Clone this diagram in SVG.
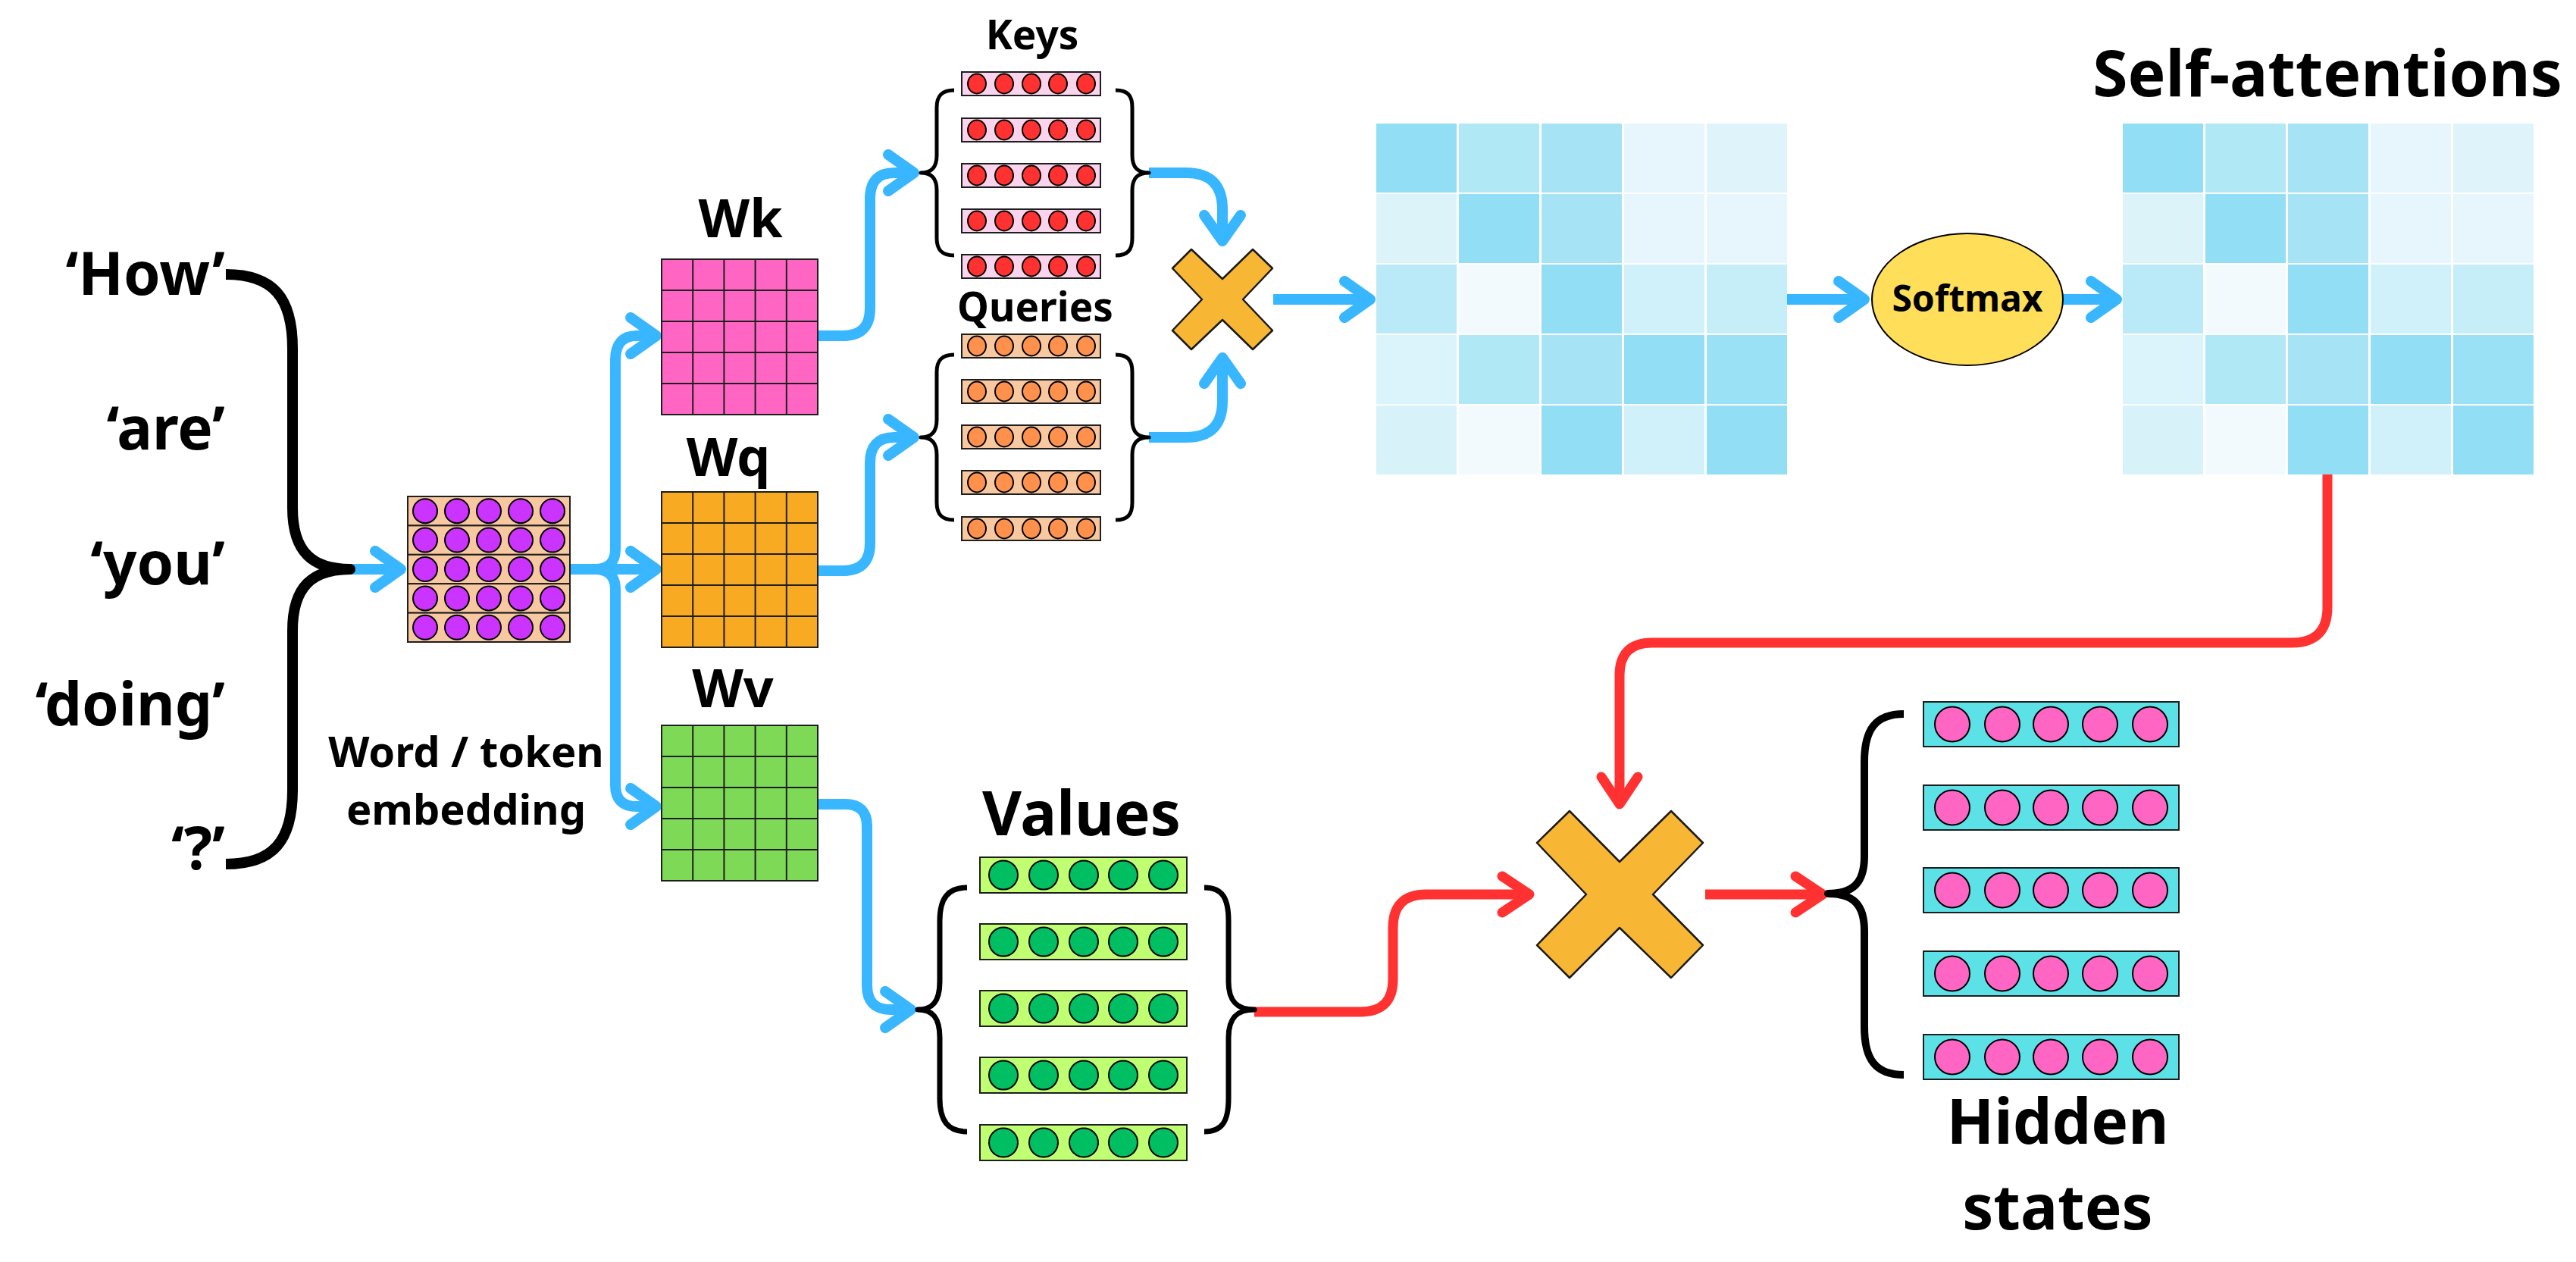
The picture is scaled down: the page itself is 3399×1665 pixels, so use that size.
<svg xmlns="http://www.w3.org/2000/svg" xmlns:xlink="http://www.w3.org/1999/xlink" width="3399" height="1665" viewBox="0 0 3399 1665">
<style>
.t{font-family:"Noto Sans","Open Sans","Liberation Sans",sans-serif;font-weight:700;fill:#000}
.br{fill:none;stroke:#000;stroke-linecap:butt;stroke-linejoin:round}
.cb{fill:none;stroke:#38B6FF;stroke-width:14;stroke-linecap:butt;stroke-linejoin:round}
.cr{fill:none;stroke:#FF3131;stroke-width:13;stroke-linecap:butt;stroke-linejoin:round}
.grid{stroke:#1e1e1e;stroke-width:2;fill:none}
.cell{stroke:#1e1e1e;stroke-width:2}
.dot{stroke:#000;stroke-width:2}
.xs{fill:#F7B633;stroke:#1a1a1a;stroke-width:2.5;stroke-linejoin:round}
</style>
<defs>
<marker id="ab" markerUnits="userSpaceOnUse" orient="auto" refX="0" refY="0" markerWidth="80" markerHeight="80" viewBox="-50 -40 80 80" overflow="visible">
<path d="M-34 -24 L0 0 L-34 24" fill="none" stroke="#38B6FF" stroke-width="14" stroke-linecap="round" stroke-linejoin="round"/>
</marker>
<marker id="ar" markerUnits="userSpaceOnUse" orient="auto" refX="0" refY="0" markerWidth="80" markerHeight="80" viewBox="-50 -40 80 80" overflow="visible">
<path d="M-36 -24 L0 0 L-36 24" fill="none" stroke="#FF3131" stroke-width="13" stroke-linecap="round" stroke-linejoin="round"/>
</marker>
<g id="embRow">
<rect width="214" height="38.4" fill="#F8C9A0" class="cell"/>
<circle cx="23" cy="19.2" r="16" fill="#CB33FF" class="dot"/>
<circle cx="65" cy="19.2" r="16" fill="#CB33FF" class="dot"/>
<circle cx="107" cy="19.2" r="16" fill="#CB33FF" class="dot"/>
<circle cx="149" cy="19.2" r="16" fill="#CB33FF" class="dot"/>
<circle cx="191" cy="19.2" r="16" fill="#CB33FF" class="dot"/>
</g>
<g id="wgrid">
<path class="grid" d="M41.2 0V205M82.4 0V205M123.6 0V205M164.8 0V205M0 41H206M0 82H206M0 123H206M0 164H206"/>
<rect width="206" height="205" class="grid"/>
</g>
<g id="keyVec">
<rect width="183" height="31" fill="#FAD4EC" class="cell"/>
<ellipse cx="20" cy="15.5" rx="12" ry="13" fill="#FF3131" class="dot"/>
<ellipse cx="56" cy="15.5" rx="12" ry="13" fill="#FF3131" class="dot"/>
<ellipse cx="92" cy="15.5" rx="12" ry="13" fill="#FF3131" class="dot"/>
<ellipse cx="127" cy="15.5" rx="12" ry="13" fill="#FF3131" class="dot"/>
<ellipse cx="164" cy="15.5" rx="12" ry="13" fill="#FF3131" class="dot"/>
</g>
<g id="qryVec">
<rect width="183" height="31" fill="#F8C9A0" class="cell"/>
<ellipse cx="20" cy="15.5" rx="12" ry="13" fill="#FF914D" class="dot"/>
<ellipse cx="56" cy="15.5" rx="12" ry="13" fill="#FF914D" class="dot"/>
<ellipse cx="92" cy="15.5" rx="12" ry="13" fill="#FF914D" class="dot"/>
<ellipse cx="127" cy="15.5" rx="12" ry="13" fill="#FF914D" class="dot"/>
<ellipse cx="164" cy="15.5" rx="12" ry="13" fill="#FF914D" class="dot"/>
</g>
<g id="valVec">
<rect width="273" height="47" fill="#C1FF72" class="cell"/>
<ellipse cx="31" cy="23.5" rx="19" ry="19" fill="#00BF63" class="dot"/>
<ellipse cx="84" cy="23.5" rx="19" ry="19" fill="#00BF63" class="dot"/>
<ellipse cx="137" cy="23.5" rx="19" ry="19" fill="#00BF63" class="dot"/>
<ellipse cx="189" cy="23.5" rx="19" ry="19" fill="#00BF63" class="dot"/>
<ellipse cx="242" cy="23.5" rx="19" ry="19" fill="#00BF63" class="dot"/>
</g>
<g id="hidVec">
<rect width="337" height="59" fill="#5CE1E6" class="cell"/>
<ellipse cx="38" cy="29.5" rx="23" ry="23" fill="#FF66C4" class="dot"/>
<ellipse cx="104" cy="29.5" rx="23" ry="23" fill="#FF66C4" class="dot"/>
<ellipse cx="168" cy="29.5" rx="23" ry="23" fill="#FF66C4" class="dot"/>
<ellipse cx="233" cy="29.5" rx="23" ry="23" fill="#FF66C4" class="dot"/>
<ellipse cx="299" cy="29.5" rx="23" ry="23" fill="#FF66C4" class="dot"/>
</g>
<g id="attn">
<rect x="0" y="0" width="106" height="91" fill="#92DEF4"/>
<rect x="109" y="0" width="106" height="91" fill="#B0E8F6"/>
<rect x="218" y="0" width="106" height="91" fill="#A6E4F5"/>
<rect x="327" y="0" width="106" height="91" fill="#E6F6FC"/>
<rect x="436" y="0" width="106" height="91" fill="#DFF3FA"/>
<rect x="0" y="93" width="106" height="91" fill="#DCF3FA"/>
<rect x="109" y="93" width="106" height="91" fill="#92DEF4"/>
<rect x="218" y="93" width="106" height="91" fill="#A6E4F5"/>
<rect x="327" y="93" width="106" height="91" fill="#E6F6FC"/>
<rect x="436" y="93" width="106" height="91" fill="#E6F6FC"/>
<rect x="0" y="186" width="106" height="91" fill="#BAEAF7"/>
<rect x="109" y="186" width="106" height="91" fill="#F2FAFD"/>
<rect x="218" y="186" width="106" height="91" fill="#92DEF4"/>
<rect x="327" y="186" width="106" height="91" fill="#D1F1FA"/>
<rect x="436" y="186" width="106" height="91" fill="#C5EEF9"/>
<rect x="0" y="279" width="106" height="91" fill="#DBF3FB"/>
<rect x="109" y="279" width="106" height="91" fill="#B0E8F6"/>
<rect x="218" y="279" width="106" height="91" fill="#A6E4F5"/>
<rect x="327" y="279" width="106" height="91" fill="#92DEF4"/>
<rect x="436" y="279" width="106" height="91" fill="#9BE1F5"/>
<rect x="0" y="372" width="106" height="91" fill="#D8F2FA"/>
<rect x="109" y="372" width="106" height="91" fill="#F2FAFD"/>
<rect x="218" y="372" width="106" height="91" fill="#92DEF4"/>
<rect x="327" y="372" width="106" height="91" fill="#D1F1FA"/>
<rect x="436" y="372" width="106" height="91" fill="#92DEF4"/>
</g>
</defs>
<rect width="3399" height="1665" fill="#fff"/>

<g id="connectors">
<path class="cb" d="M462 751H529" marker-end="url(#ab)"/>
<path class="cb" d="M752 751H785Q812 751 812 724V475Q812 443 840 443H866" marker-end="url(#ab)"/>
<path class="cb" d="M752 751H866" marker-end="url(#ab)"/>
<path class="cb" d="M785 751Q812 751 812 778V1036Q812 1064 840 1064H866" marker-end="url(#ab)"/>
<path class="cb" d="M1079 443H1112Q1148 443 1148 407V262Q1148 228 1180 228H1206" marker-end="url(#ab)"/>
<path class="cb" d="M1079 753H1112Q1148 753 1148 717V611Q1148 577 1180 577H1206" marker-end="url(#ab)"/>
<path class="cb" d="M1516 228H1565Q1613 228 1613 276V318" marker-end="url(#ab)"/>
<path class="cb" d="M1516 577H1565Q1613 577 1613 529V472" marker-end="url(#ab)"/>
<path class="cb" d="M1680 395H1808" marker-end="url(#ab)"/>
<path class="cb" d="M2358 395H2460" marker-end="url(#ab)"/>
<path class="cb" d="M2722 395H2793" marker-end="url(#ab)"/>
<path class="cb" d="M1078 1061H1115Q1144 1061 1144 1090V1300Q1144 1332 1175 1332H1202" marker-end="url(#ab)"/>
<path class="cr" d="M1655 1335H1795Q1838 1335 1838 1292V1224Q1838 1180 1882 1180H2018" marker-end="url(#ar)"/>
<path class="cr" d="M3071 626V801Q3071 848 3024 848H2180Q2137 848 2137 891V1061" marker-end="url(#ar)"/>
<path class="cr" d="M2250 1180H2405" marker-end="url(#ar)"/>
</g>

<g id="input-tokens">
<text class="t" x="297" y="389" font-size="78" text-anchor="end">‘How’</text>
<text class="t" x="297" y="593" font-size="78" text-anchor="end">‘are’</text>
<text class="t" x="297" y="771" font-size="78" text-anchor="end">‘you’</text>
<text class="t" x="297" y="957" font-size="78" text-anchor="end">‘doing’</text>
<text class="t" x="297" y="1147" font-size="78" text-anchor="end">‘?’</text>
<path class="br" stroke-width="14" d="M298 362C360 362 386 392 386 460L386 670C386 728 412 751 462 751C412 751 386 774 386 832L386 1042C386 1110 360 1140 298 1140"/>
</g>

<g id="embedding">
<use href="#embRow" x="538" y="655"/>
<use href="#embRow" x="538" y="693.4"/>
<use href="#embRow" x="538" y="731.8"/>
<use href="#embRow" x="538" y="770.2"/>
<use href="#embRow" x="538" y="808.6"/>
<text class="t" x="615" y="1012" font-size="56" text-anchor="middle">Word / token</text>
<text class="t" x="615" y="1088" font-size="56" text-anchor="middle">embedding</text>
</g>

<g id="Wk">
<text class="t" x="977" y="313" font-size="70" text-anchor="middle">Wk</text>
<rect x="873" y="342" width="206" height="205" fill="#FF66C4"/>
<use href="#wgrid" x="873" y="342"/>
</g>
<g id="Wq">
<text class="t" x="961" y="628" font-size="70" text-anchor="middle">Wq</text>
<rect x="873" y="649" width="206" height="205" fill="#F8AA22"/>
<use href="#wgrid" x="873" y="649"/>
</g>
<g id="Wv">
<text class="t" x="967" y="933" font-size="70" text-anchor="middle">Wv</text>
<rect x="873" y="957" width="206" height="205" fill="#7ED957"/>
<use href="#wgrid" x="873" y="957"/>
</g>

<g id="keys">
<text class="t" x="1362" y="65" font-size="53" text-anchor="middle">Keys</text>
<use href="#keyVec" x="1269" y="95"/>
<use href="#keyVec" x="1269" y="156"/>
<use href="#keyVec" x="1269" y="216"/>
<use href="#keyVec" x="1269" y="276"/>
<use href="#keyVec" x="1269" y="336"/>
<path class="br" stroke-width="5" d="M1259 119C1243 119 1236 126 1236 142L1236 205C1236 221 1229 228 1215 228C1229 228 1236 235 1236 251L1236 314C1236 330 1243 337 1259 337"/>
<path class="br" stroke-width="5" d="M1472 119C1488 119 1494 126 1494 142L1494 205C1494 221 1501 228 1516 228C1501 228 1494 235 1494 251L1494 314C1494 330 1488 337 1472 337"/>
</g>

<g id="queries">
<text class="t" x="1366" y="424" font-size="53" text-anchor="middle">Queries</text>
<use href="#qryVec" x="1269" y="441"/>
<use href="#qryVec" x="1269" y="501"/>
<use href="#qryVec" x="1269" y="561"/>
<use href="#qryVec" x="1269" y="621"/>
<use href="#qryVec" x="1269" y="682"/>
<path class="br" stroke-width="5" d="M1259 468C1243 468 1236 475 1236 491L1236 554C1236 570 1229 577 1215 577C1229 577 1236 584 1236 600L1236 663C1236 679 1243 686 1259 686"/>
<path class="br" stroke-width="5" d="M1472 468C1488 468 1494 475 1494 491L1494 554C1494 570 1501 577 1516 577C1501 577 1494 584 1494 600L1494 663C1494 679 1488 686 1472 686"/>
</g>

<g id="multiply-qk">
<polygon class="xs" points="1572,329 1613,368 1653,329 1679,354 1640,395 1679,436 1653,461 1613,422 1572,461 1547,436 1586,395 1547,354"/>
</g>

<g id="attention-scores">
<use href="#attn" x="1816" y="163"/>
</g>

<g id="softmax">
<ellipse cx="2596" cy="395" rx="126" ry="87" fill="#FFDE59" stroke="#000" stroke-width="2"/>
<text class="t" x="2596" y="411" font-size="48" text-anchor="middle">Softmax</text>
</g>

<g id="self-attentions">
<text class="t" x="3071" y="127" font-size="84" text-anchor="middle">Self-attentions</text>
<use href="#attn" x="2801" y="163"/>
</g>

<g id="values">
<text class="t" x="1427" y="1102" font-size="80" text-anchor="middle">Values</text>
<use href="#valVec" x="1293" y="1131"/>
<use href="#valVec" x="1293" y="1219"/>
<use href="#valVec" x="1293" y="1307"/>
<use href="#valVec" x="1293" y="1395"/>
<use href="#valVec" x="1293" y="1484"/>
<path class="br" stroke-width="7" d="M1276 1171C1251 1171 1240 1185 1240 1215L1240 1295C1240 1322 1230 1332 1211 1332C1230 1332 1240 1342 1240 1369L1240 1449C1240 1479 1251 1493 1276 1493"/>
<path class="br" stroke-width="7" d="M1589 1171C1613 1171 1621 1185 1621 1215L1621 1295C1621 1322 1633 1332 1655 1332C1633 1332 1621 1342 1621 1369L1621 1449C1621 1479 1613 1493 1589 1493"/>
</g>

<g id="multiply-av">
<polygon class="xs" points="2071,1070 2137,1137 2205,1070 2247,1112 2181,1180 2247,1247 2205,1290 2137,1224 2071,1290 2028,1247 2093,1180 2028,1112"/>
</g>

<g id="hidden-states">
<use href="#hidVec" x="2538" y="926"/>
<use href="#hidVec" x="2538" y="1036"/>
<use href="#hidVec" x="2538" y="1145"/>
<use href="#hidVec" x="2538" y="1255"/>
<use href="#hidVec" x="2538" y="1365"/>
<path class="br" stroke-width="10" d="M2512 942C2475 942 2460 962 2460 1005L2460 1130C2460 1165 2445 1179 2412 1179C2445 1179 2460 1193 2460 1228L2460 1355C2460 1398 2475 1418 2512 1418"/>
<text class="t" x="2715" y="1509" font-size="82" text-anchor="middle">Hidden</text>
<text class="t" x="2715" y="1622" font-size="82" text-anchor="middle">states</text>
</g>
</svg>
